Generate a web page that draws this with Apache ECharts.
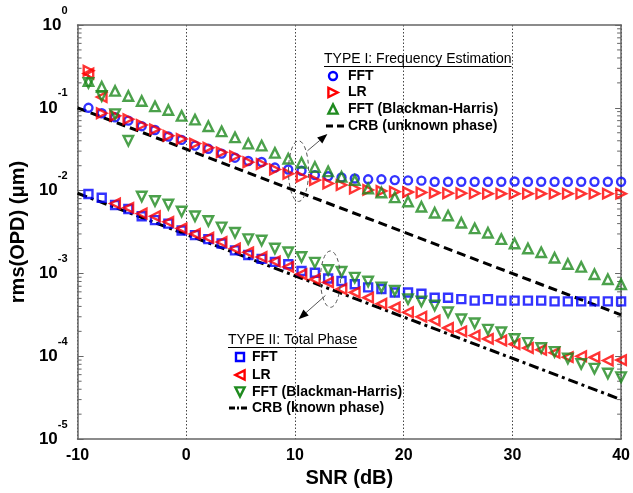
<!DOCTYPE html>
<html><head><meta charset="utf-8">
<script src="https://cdn.jsdelivr.net/npm/echarts@6/dist/echarts.min.js"></script>
<style>html,body{margin:0;padding:0;background:#fff}#c{width:633px;height:493px}</style>
</head><body><div id="c"></div>
<script>
// SNR grid (dB)
const snr = [-9.0,-7.78,-6.55,-5.33,-4.1,-2.88,-1.65,-0.43,0.8,2.03,3.25,4.48,5.7,6.93,8.15,9.38,10.6,11.83,13.05,14.28,15.5,16.73,17.95,19.18,20.4,21.63,22.85,24.08,25.3,26.53,27.75,28.98,30.2,31.43,32.65,33.88,35.1,36.33,37.55,38.78,40.0];

// TYPE I: Frequency Estimation
const t1FFT = [0.1,0.086,0.077,0.07,0.06,0.054,0.045,0.041,0.035,0.032,0.028,0.025,0.0228,0.0222,0.019,0.018,0.0174,0.0154,0.0149,0.0144,0.014,0.0137,0.0137,0.0134,0.0133,0.0132,0.0128,0.0128,0.0128,0.0128,0.0128,0.0128,0.0129,0.0128,0.0128,0.0128,0.0128,0.0128,0.0128,0.0128,0.0128];
const t1LR = [0.28,0.086,0.08,0.073,0.062,0.055,0.046,0.042,0.037,0.033,0.029,0.026,0.022,0.021,0.018,0.016,0.0147,0.0134,0.0122,0.0117,0.0106,0.0102,0.0099,0.0097,0.0096,0.0095,0.0094,0.0093,0.0093,0.0093,0.0092,0.0092,0.0092,0.0092,0.0092,0.0092,0.0092,0.0092,0.0092,0.0092,0.0092];
const t1BH = [0.21,0.18,0.16,0.139,0.121,0.104,0.094,0.08,0.072,0.06,0.052,0.044,0.037,0.035,0.0286,0.0243,0.0217,0.0193,0.0171,0.0147,0.0134,0.0106,0.0095,0.0083,0.0074,0.0064,0.0054,0.005,0.0041,0.0035,0.0031,0.0026,0.0023,0.002,0.0018,0.00155,0.0013,0.0012,0.00098,0.00085,0.00074];
const crbUnknownX = [-10, 40];
const crbUnknownY = [0.1, 0.000316];

// TYPE II: Total Phase
const t2FFT = [0.0091,0.0082,0.0067,0.006,0.0049,0.0044,0.004,0.0033,0.0029,0.0026,0.0023,0.0019,0.00167,0.0015,0.00138,0.00129,0.00107,0.00102,0.00087,0.00081,0.00074,0.00068,0.00065,0.00059,0.00059,0.00057,0.00051,0.00051,0.00049,0.00047,0.00049,0.00047,0.00047,0.00047,0.00047,0.00046,0.00046,0.00046,0.00046,0.00046,0.00046];
const t2LR = [0.26,0.135,0.007,0.0062,0.0053,0.0049,0.0042,0.0035,0.003,0.0027,0.0024,0.002,0.0018,0.00158,0.0014,0.0012,0.00098,0.00085,0.00078,0.00065,0.00059,0.00051,0.00043,0.00039,0.00034,0.0003,0.00027,0.00022,0.0002,0.000178,0.000162,0.000155,0.00014,0.000126,0.00012,0.00011,0.0000976,0.0001,0.000097,0.000089,0.00009];
const t2BH = [0.2,0.139,0.084,0.04,0.0085,0.0075,0.0068,0.0056,0.0049,0.0043,0.0036,0.0031,0.0026,0.0025,0.002,0.0018,0.00158,0.00135,0.0011,0.00105,0.00089,0.0008,0.00068,0.00062,0.00049,0.00046,0.00041,0.00034,0.00028,0.00025,0.00021,0.000195,0.000162,0.000145,0.000126,0.000113,0.000094,0.000081,0.000071,0.000062,0.000056];
const crbKnownX = [-10, 40];
const crbKnownY = [0.0093, 0.00003];

// axis ticks
const xTicks = [-10, 0, 10, 20, 30, 40];
const yDecades = [1e-5, 1e-4, 1e-3, 1e-2, 1e-1, 1];

// legend texts
const legend1Title = 'TYPE I: Frequency Estimation';
const legend1Names = ['FFT', 'LR', 'FFT (Blackman-Harris)', 'CRB (unknown phase)'];
const legend2Title = 'TYPE II: Total Phase';
const legend2Names = ['FFT', 'LR', 'FFT (Blackman-Harris)', 'CRB (known phase)'];

const FONT = '"Liberation Sans", Arial, sans-serif';
const blue = '#0000ff', red = '#ff0000', green = '#1e8a1e';
const axisColor = '#666';
const dashUnknown = [9, 5], dashKnown = [10, 4, 3, 4];

function pairs(xs, ys) { return xs.map((x, i) => [x, ys[i]]); }

// minor tick positions for the log axis (2..9 x 10^k)
const minorVals = [];
yDecades.slice(0, -1).forEach(d => { for (let m = 2; m <= 9; m++) minorVals.push(d * m); });

function scatter(name, ys, color, symbol, rotate, size) {
  return {
    name, type: 'scatter', data: pairs(snr, ys), symbol, symbolRotate: rotate, symbolSize: size,
    itemStyle: { color: 'rgba(0,0,0,0)', borderColor: color, borderWidth: 2.4 },
    emphasis: { disabled: true }, z: 3
  };
}

const chart = echarts.init(document.getElementById('c'), null, { renderer: 'canvas' });

const option = {
  animation: false,
  backgroundColor: '#fff',
  grid: { left: 76, top: 25, right: 11, bottom: 50 },
  xAxis: [{
    type: 'value', min: xTicks[0], max: xTicks[xTicks.length - 1], interval: 10, position: 'bottom',
    axisLine: { show: true, onZero: false, lineStyle: { color: axisColor, width: 1.5 } },
    axisTick: { show: false },
    axisLabel: { color: '#000', fontFamily: FONT, fontWeight: 'bold', fontSize: 16, margin: 8 },
    splitLine: { show: true, lineStyle: { color: '#444', type: [1.5, 2], width: 1 } },
    name: 'SNR (dB)', nameLocation: 'middle', nameGap: 24,
    nameTextStyle: { color: '#000', fontFamily: FONT, fontWeight: 'bold', fontSize: 20, verticalAlign: 'top' }
  }, {
    type: 'value', min: xTicks[0], max: xTicks[xTicks.length - 1], position: 'top',
    axisLine: { show: true, onZero: false, lineStyle: { color: axisColor, width: 1.5 } },
    axisTick: { show: false }, axisLabel: { show: false }, splitLine: { show: false }
  }],
  yAxis: [{
    type: 'log', logBase: 10, min: yDecades[0], max: yDecades[yDecades.length - 1], position: 'left',
    axisLine: { show: true, onZero: false, lineStyle: { color: axisColor, width: 1.5 } },
    axisTick: { show: true, inside: true, length: 6, lineStyle: { color: axisColor } },
    splitLine: { show: false },
    axisLabel: {
      margin: 10,
      formatter: v => '{b|10}{s|' + Math.round(Math.log10(v)) + '}',
      rich: {
        b: { fontFamily: FONT, fontWeight: 'bold', fontSize: 17, color: '#000', lineHeight: 40, verticalAlign: 'middle' },
        s: { fontFamily: FONT, fontWeight: 'bold', fontSize: 11, color: '#000', lineHeight: 12, verticalAlign: 'top' }
      }
    },
    name: 'rms(OPD) (\u03bcm)', nameLocation: 'middle', nameGap: 43, nameRotate: 90,
    nameTextStyle: { color: '#000', fontFamily: FONT, fontWeight: 'bold', fontSize: 20 }
  }, {
    type: 'log', logBase: 10, min: yDecades[0], max: yDecades[yDecades.length - 1], position: 'right',
    axisLine: { show: true, onZero: false, lineStyle: { color: axisColor, width: 1.5 } },
    axisTick: { show: true, inside: true, length: 6, lineStyle: { color: axisColor } },
    axisLabel: { show: false }, splitLine: { show: false }
  }],
  series: [
    {
      name: 'minorTicks', type: 'custom', silent: true, data: minorVals, z: 2,
      renderItem: (params, api) => {
        const v = api.value(0);
        const l = api.coord([xTicks[0], v]);
        const r = api.coord([xTicks[xTicks.length - 1], v]);
        const st = { stroke: axisColor, lineWidth: 1 };
        return { type: 'group', children: [
          { type: 'line', shape: { x1: l[0], y1: l[1], x2: l[0] + 4, y2: l[1] }, style: st },
          { type: 'line', shape: { x1: r[0] - 4, y1: r[1], x2: r[0], y2: r[1] }, style: st }
        ] };
      },
      encode: { y: 0 }
    },
    {
      name: 'CRB (unknown phase)', type: 'line', data: pairs(crbUnknownX, crbUnknownY), symbol: 'none',
      lineStyle: { color: '#000', width: 3, type: dashUnknown }, itemStyle: { color: '#000' }, z: 2
    },
    {
      name: 'CRB (known phase)', type: 'line', data: pairs(crbKnownX, crbKnownY), symbol: 'none',
      lineStyle: { color: '#000', width: 3, type: dashKnown }, itemStyle: { color: '#000' }, z: 2
    },
    scatter('FFT', t1FFT, blue, 'circle', 0, 8),
    scatter('LR', t1LR, red, 'triangle', -90, 9.5),
    scatter('FFT (Blackman-Harris)', t1BH, green, 'triangle', 0, 9.5),
    scatter('FFT ', t2FFT, blue, 'rect', 0, 8),
    scatter('LR ', t2LR, red, 'triangle', 90, 9.5),
    scatter('FFT (Blackman-Harris) ', t2BH, green, 'triangle', 180, 9.5)
  ]
};
chart.setOption(option);

// annotations (placed in data coordinates)
function px(x, y) { return chart.convertToPixel({ gridIndex: 0 }, [x, y]); }
function ellipseFrom(x0, x1, y0, y1) {
  const a = px(x0, y0), b = px(x1, y1);
  return { type: 'ellipse', shape: { cx: (a[0] + b[0]) / 2, cy: (a[1] + b[1]) / 2, rx: Math.abs(b[0] - a[0]) / 2, ry: Math.abs(b[1] - a[1]) / 2 },
    style: { fill: 'none', stroke: '#555', lineWidth: 1, lineDash: [4, 3] }, z: 10 };
}
function arrow(xa, ya, xb, yb) {
  const a = px(xa, ya), b = px(xb, yb);
  const ang = Math.atan2(b[1] - a[1], b[0] - a[0]);
  const L = 10, W = 4;
  const bx = b[0] - L * Math.cos(ang), by = b[1] - L * Math.sin(ang);
  return [
    { type: 'line', shape: { x1: a[0], y1: a[1], x2: bx, y2: by }, style: { stroke: '#555', lineWidth: 1 }, z: 10 },
    { type: 'polygon', shape: { points: [[b[0], b[1]], [bx + W * Math.sin(ang), by - W * Math.cos(ang)], [bx - W * Math.sin(ang), by + W * Math.cos(ang)]] }, style: { fill: '#000' }, z: 10 }
  ];
}

// hand-laid legends (layout positions in pixels)
const ctx = document.createElement('canvas').getContext('2d');
function legendBlock(titleText, names, kinds, x0, yTitle, xMark, xText, rows) {
  const els = [];
  ctx.font = '14px ' + FONT;
  const tw = ctx.measureText(titleText).width;
  els.push({ type: 'text', x: x0, y: yTitle, style: { text: titleText, fill: '#000', font: '14px ' + FONT, verticalAlign: 'middle' }, z: 10 });
  els.push({ type: 'line', shape: { x1: x0, y1: yTitle + 7.5, x2: x0 + tw, y2: yTitle + 7.5 }, style: { stroke: '#000', lineWidth: 1 }, z: 10 });
  names.forEach((n, i) => {
    const y = rows[i], k = kinds[i];
    const st = { fill: 'none', stroke: k.color, lineWidth: 2.4 };
    const h = 4.6;
    if (k.shape === 'circle') els.push({ type: 'circle', shape: { cx: xMark, cy: y, r: 4 }, style: st, z: 10 });
    else if (k.shape === 'rect') els.push({ type: 'rect', shape: { x: xMark - 4, y: y - 4, width: 8, height: 8 }, style: st, z: 10 });
    else if (k.shape === 'right') els.push({ type: 'polygon', shape: { points: [[xMark - h, y - h], [xMark + h, y], [xMark - h, y + h]] }, style: st, z: 10 });
    else if (k.shape === 'left') els.push({ type: 'polygon', shape: { points: [[xMark + h, y - h], [xMark - h, y], [xMark + h, y + h]] }, style: st, z: 10 });
    else if (k.shape === 'up') els.push({ type: 'polygon', shape: { points: [[xMark - h, y + h], [xMark, y - h], [xMark + h, y + h]] }, style: st, z: 10 });
    else if (k.shape === 'down') els.push({ type: 'polygon', shape: { points: [[xMark - h, y - h], [xMark, y + h], [xMark + h, y - h]] }, style: st, z: 10 });
    else if (k.shape === 'line') els.push({ type: 'line', shape: { x1: k.x1, y1: y, x2: k.x2, y2: y }, style: { stroke: '#000', lineWidth: 3, lineDash: k.dash }, z: 10 });
    els.push({ type: 'text', x: xText, y: y, style: { text: n, fill: '#000', font: 'bold 14px ' + FONT, verticalAlign: 'middle' }, z: 10 });
  });
  return els;
}

const g = [];
g.push(ellipseFrom(9.4, 11.25, 0.0074, 0.04));
g.push(...arrow(11.15, 0.0303, 12.98, 0.0483));
g.push(ellipseFrom(12.34, 14.18, 0.00039, 0.00187));
g.push(...arrow(12.8, 0.000542, 10.33, 0.00028));
g.push(...legendBlock(legend1Title, legend1Names,
  [{ shape: 'circle', color: blue }, { shape: 'right', color: red }, { shape: 'up', color: green }, { shape: 'line', x1: 326, x2: 345, dash: [7, 4] }],
  324, 59, 333, 348, [76, 92.5, 109, 126]));
g.push(...legendBlock(legend2Title, legend2Names,
  [{ shape: 'rect', color: blue }, { shape: 'left', color: red }, { shape: 'down', color: green }, { shape: 'line', x1: 229, x2: 249, dash: [6, 2, 2, 2] }],
  228, 340, 240, 252, [357, 375, 392, 408]));
chart.setOption({ graphic: g });
</script>
</body></html>
